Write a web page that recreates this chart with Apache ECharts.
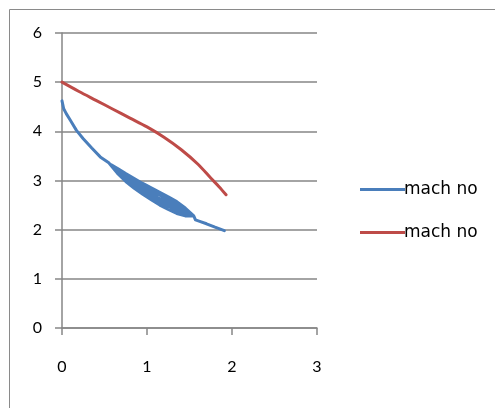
<!DOCTYPE html>
<html>
<head>
<meta charset="utf-8">
<script src="https://cdn.jsdelivr.net/npm/echarts@6/dist/echarts.min.js"></script>
<style>
html,body{margin:0;padding:0;background:#fff;}
#c{width:495px;height:408px;}
</style>
</head>
<body>
<div id="c"></div>
<script>
// Series names
const seriesNames = ['mach no', 'mach no'];

// Blue series (x, y) — traced path; the thick band is several overlapping strokes
const blueX = [0, 0.02, 0.05, 0.1, 0.17, 0.25, 0.35, 0.45, 0.55,
  0.65, 0.75, 0.85, 0.95, 1.05, 1.15, 1.25, 1.35, 1.45, 1.55,
  1.45, 1.35, 1.25, 1.15, 1.05, 0.95, 0.85, 0.75, 0.65, 0.58,
  0.65, 0.75, 0.85, 0.95, 1.05, 1.15, 1.25, 1.35, 1.45, 1.52,
  1.45, 1.35, 1.25, 1.15, 1.05, 0.95, 0.85, 0.75, 0.65, 0.6,
  0.65, 0.75, 0.85, 0.95, 1.05, 1.15, 1.25, 1.35, 1.45, 1.55,
  1.57, 1.62, 1.7, 1.8, 1.91];
const blueY = [4.62, 4.46, 4.36, 4.22, 4.02, 3.85, 3.66, 3.48, 3.36,
  3.15, 2.98, 2.84, 2.72, 2.61, 2.50, 2.41, 2.33, 2.28, 2.28,
  2.44, 2.57, 2.67, 2.76, 2.85, 2.94, 3.04, 3.14, 3.25, 3.32,
  3.18, 3.02, 2.89, 2.78, 2.67, 2.57, 2.48, 2.39, 2.32, 2.29,
  2.40, 2.51, 2.61, 2.70, 2.79, 2.89, 2.99, 3.10, 3.23, 3.29,
  3.20, 3.06, 2.94, 2.83, 2.73, 2.63, 2.54, 2.45, 2.36, 2.28,
  2.20, 2.17, 2.12, 2.05, 1.98];

// Red series (x, y)
const redX = [0, 0.2, 0.4, 0.6, 0.8, 1.0, 1.2, 1.4, 1.6, 1.75, 1.85, 1.93];
const redY = [5.0, 4.81, 4.63, 4.45, 4.27, 4.09, 3.88, 3.63, 3.33, 3.05, 2.87, 2.71];

// Axis ticks
const xTicks = [0, 1, 2, 3];
const yTicks = [0, 1, 2, 3, 4, 5, 6];

const zip = (xs, ys) => xs.map((x, i) => [x, ys[i]]);

const font = 'Lato, "Open Sans", sans-serif';
const legendFont = '"DejaVu Sans", sans-serif';
const axisGray = '#868686';

const chart = echarts.init(document.getElementById('c'));
chart.setOption({
  animation: false,
  backgroundColor: '#fff',
  graphic: [{
    type: 'rect', left: 7, top: 7, z: -1,
    shape: {x: 0, y: 0, width: 520, height: 430},
    style: {fill: 'none', stroke: '#8a8a8a', lineWidth: 1}
  }],
  grid: {left: 62, top: 33, width: 255, height: 295, containLabel: false},
  legend: {
    orient: 'vertical',
    left: 355, top: 176,
    itemWidth: 45, itemHeight: 3, itemGap: 26,
    icon: 'rect',
    textStyle: {fontFamily: legendFont, fontSize: 17, color: '#000', padding: [0, 0, 0, -6]},
    data: [{name: 'blue'}, {name: 'red'}],
    formatter: (n) => seriesNames[n === 'blue' ? 0 : 1]
  },
  xAxis: {
    type: 'value', min: xTicks[0], max: xTicks[xTicks.length - 1], interval: 1,
    axisLine: {show: true, onZero: false, lineStyle: {color: axisGray, width: 1.5}},
    axisTick: {show: true, inside: false, length: 7, lineStyle: {color: axisGray, width: 1.5}},
    splitLine: {show: false},
    axisLabel: {fontFamily: font, fontSize: 16, color: '#000', margin: 31}
  },
  yAxis: {
    type: 'value', min: yTicks[0], max: yTicks[yTicks.length - 1], interval: 1,
    axisLine: {show: true, onZero: false, lineStyle: {color: axisGray, width: 1.5}},
    axisTick: {show: true, inside: false, length: 7, lineStyle: {color: axisGray, width: 1.5}},
    splitLine: {show: true, lineStyle: {color: axisGray, width: 1.5}},
    axisLabel: {fontFamily: font, fontSize: 16, color: '#000', margin: 20}
  },
  series: [
    {
      name: 'blue', type: 'line', data: zip(blueX, blueY),
      showSymbol: false, symbol: 'none', smooth: false,
      lineStyle: {color: '#4A7EBB', width: 3, join: 'round', cap: 'round'},
      itemStyle: {color: '#4A7EBB'}
    },
    {
      name: 'red', type: 'line', data: zip(redX, redY),
      showSymbol: false, symbol: 'none', smooth: 0.3,
      lineStyle: {color: '#BE4B48', width: 3, cap: 'round'},
      itemStyle: {color: '#BE4B48'}
    }
  ]
});
</script>
</body>
</html>
